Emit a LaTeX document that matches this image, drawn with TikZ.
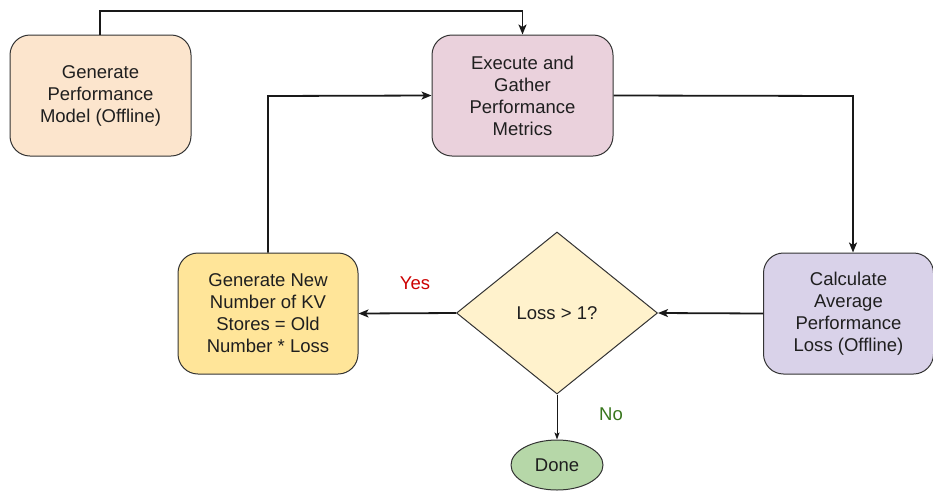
\documentclass[tikz,border=0pt]{standalone}
\usepackage{fontspec}
\setmainfont{Liberation Sans}
\usetikzlibrary{shapes.geometric,arrows.meta}
\definecolor{peach}{HTML}{FCE5CD}
\definecolor{mauve}{HTML}{EAD1DC}
\definecolor{lav}{HTML}{D9D2E9}
\definecolor{gold}{HTML}{FFE599}
\definecolor{cream}{HTML}{FFF2CC}
\definecolor{sage}{HTML}{B6D7A8}
\definecolor{edge}{HTML}{333333}
\definecolor{yesred}{HTML}{CC0000}
\definecolor{nogreen}{HTML}{38761D}
\begin{document}
\begin{tikzpicture}[x=1pt,y=-1pt,
  every node/.style={font=\fontsize{18.5}{22}\selectfont, text=black!88},
  box/.style={draw=edge, line width=1pt, rounded corners=20pt, align=center, inner sep=0pt},
  conn/.style={draw=black!90, line width=1.8pt, -{Stealth[length=10pt,width=8pt,inset=2.5pt]}},
  thin/.style={draw=black!90, line width=1pt, -{Stealth[length=7pt,width=5pt,inset=1.5pt]}}]
\useasboundingbox (0,0) rectangle (933,491);
\node[box, fill=peach, minimum width=181pt, minimum height=121pt] (gen) at (100.5,95.5) {Generate\\Performance\\Model (Offline)};
\node[box, fill=mauve, minimum width=181pt, minimum height=121pt] (exe) at (522.5,95.5) {Execute and\\Gather\\Performance\\Metrics};
\node[box, fill=lav, minimum width=170pt, minimum height=121pt, anchor=west] (calc) at (763,313.5) {Calculate\\Average\\Performance\\Loss (Offline)};
\node[box, fill=gold, minimum width=180pt, minimum height=121pt] (newn) at (268,313.5) {Generate New\\Number of KV\\Stores = Old\\Number * Loss};
\node[diamond, draw=edge, line width=1pt, fill=cream, minimum width=201pt, minimum height=162pt, inner sep=0pt, aspect=1.24] (dec) at (557,313) {Loss > 1?};
\node[ellipse, draw=edge, line width=1pt, fill=sage, minimum width=92pt, minimum height=50pt, inner sep=0pt] (done) at (557,465) {Done};
\node[text=yesred] (yes) at (415,283) {Yes};
\node[text=nogreen] (no) at (611,414) {No};
\coordinate (c1) at (100,11);
\coordinate (c2) at (522.5,11);
\coordinate (c3) at (853,96);
\coordinate (c4) at (268,96);
\draw[conn] (gen.north -| c1) -- (c1) -- (c2) -- (exe.north);
\draw[conn] (exe.east) -- (c3) -- (c3 |- calc.north);
\draw[conn] (calc.west) -- (dec.east);
\draw[conn] (dec.west) -- (newn.east);
\draw[conn] (newn.north) -- (c4) -- (exe.west);
\draw[thin] (dec.south) -- (done.north);
\end{tikzpicture}
\end{document}
